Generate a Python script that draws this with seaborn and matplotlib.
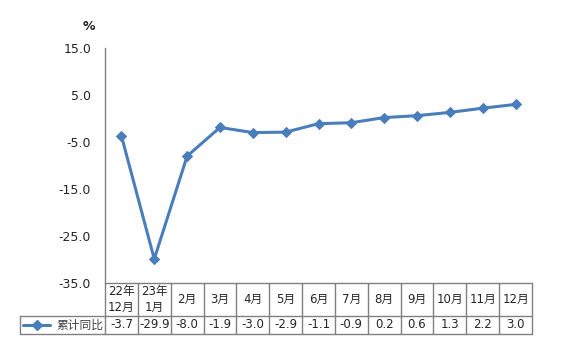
import matplotlib
matplotlib.use("Agg")
import matplotlib.pyplot as plt
import seaborn as sns
import pandas as pd
from matplotlib.lines import Line2D
import matplotlib.transforms as mtrans

categories = ["22年\n12月", "23年\n1月", "2月", "3月", "4月", "5月", "6月", "7月",
              "8月", "9月", "10月", "11月", "12月"]
values = [-3.7, -29.9, -8.0, -1.9, -3.0, -2.9, -1.1, -0.9, 0.2, 0.6, 1.3, 2.2, 3.0]
value_labels = ["-3.7", "-29.9", "-8.0", "-1.9", "-3.0", "-2.9", "-1.1", "-0.9",
                "0.2", "0.6", "1.3", "2.2", "3.0"]
series_name = "累计同比"
yticks = [15.0, 5.0, -5.0, -15.0, -25.0, -35.0]

sns.set_style("white")
plt.rcParams['font.family'] = ['DejaVu Sans', 'Noto Sans CJK SC']

W, H = 563, 349
fig = plt.figure(figsize=(W / 100, H / 100), dpi=100)
left, right, top, bottom = 105, 532, 48, 283
ax = fig.add_axes([left / W, 1 - bottom / H, (right - left) / W, (bottom - top) / H])

color = "#4a7ebb"
df = pd.DataFrame({"x": range(len(values)), "y": values})
sns.lineplot(data=df, x="x", y="y", ax=ax, color=color, linewidth=2.2,
             marker="D", markersize=5.5, markeredgecolor=color, markerfacecolor=color)

ax.set_xlim(-0.5, len(values) - 0.5)
ax.set_ylim(-35, 15)
ax.set_yticks(yticks)
ax.set_yticklabels([f"{t:.1f}" for t in yticks], fontsize=9)
ax.tick_params(axis="y", length=0, pad=10)
ax.set_xticks([])
ax.set_xlabel("")
ax.set_ylabel("")
for s in ["top", "right"]:
    ax.spines[s].set_visible(False)
ax.spines["left"].set_color("#808080")
ax.spines["left"].set_linewidth(1)
ax.spines["bottom"].set_visible(False)

ax.text(-10 / (right - left), 1.065, "%", transform=ax.transAxes, ha="right", va="bottom",
        fontsize=9, fontweight="bold")

# data table below axis
axh = bottom - top
hdr_b = -(316 - bottom) / axh
val_b = -(334 - bottom) / axh
trans = mtrans.blended_transform_factory(ax.transData, ax.transAxes)
gc = "#808080"
lw = 1
n = len(values)
kw = dict(transform=trans, color=gc, linewidth=lw, clip_on=False)
for yy in [0, hdr_b, val_b]:
    ax.add_line(Line2D([-0.5, n - 0.5], [yy, yy], **kw))
for i in range(n + 1):
    ax.add_line(Line2D([i - 0.5, i - 0.5], [0, val_b], **kw))
legL = (20 - left) / (right - left)
ta = ax.transAxes
ax.add_line(Line2D([legL, 0], [hdr_b, hdr_b], transform=ta, color=gc, linewidth=lw, clip_on=False))
ax.add_line(Line2D([legL, 0], [val_b, val_b], transform=ta, color=gc, linewidth=lw, clip_on=False))
ax.add_line(Line2D([legL, legL], [hdr_b, val_b], transform=ta, color=gc, linewidth=lw, clip_on=False))
axw = right - left
ymid = (hdr_b + val_b) / 2
ax.add_line(Line2D([(23 - left) / axw, (50 - left) / axw], [ymid] * 2,
                   transform=ta, color=color, linewidth=2.2, clip_on=False))
ax.add_line(Line2D([(36.5 - left) / axw], [ymid], transform=ta,
                   marker="D", markersize=5, color=color, linestyle="none", clip_on=False))
ax.text((56 - left) / axw, ymid, series_name, transform=ta,
        ha="left", va="center", fontsize=8.5, color="#404040",
        family=['Noto Sans CJK SC', 'DejaVu Sans'])

for i, (c, v) in enumerate(zip(categories, value_labels)):
    ax.text(i, hdr_b / 2, c, transform=trans, ha="center", va="center",
            fontsize=8.5, linespacing=1.3)
    ax.text(i, ymid, v, transform=trans, ha="center", va="center",
            fontsize=8.5)

fig.savefig("out.png", dpi=100)
